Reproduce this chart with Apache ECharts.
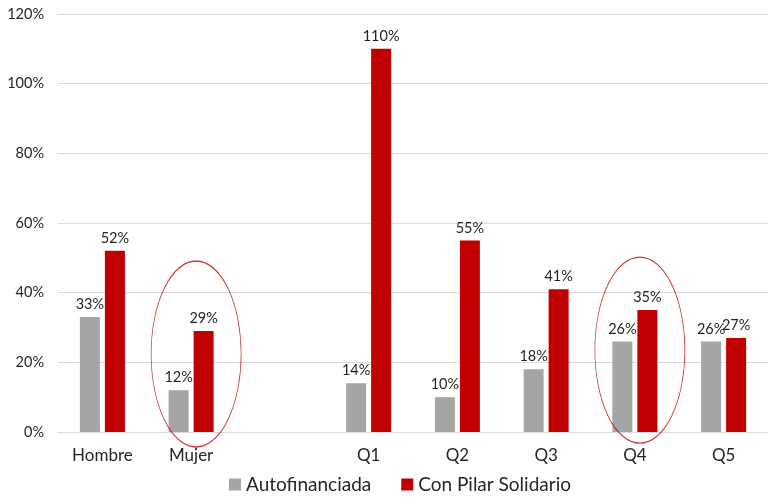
<!DOCTYPE html>
<html>
<head>
<meta charset="utf-8">
<script src="https://cdn.jsdelivr.net/npm/echarts@6/dist/echarts.min.js"></script>
<style>
html, body { margin: 0; padding: 0; background: #fff; }
#main { width: 768px; height: 499px; }
</style>
</head>
<body>
<div id="main"></div>
<script>
var categories = ['Hombre', 'Mujer', '', 'Q1', 'Q2', 'Q3', 'Q4', 'Q5'];
var autofinanciada = [33, 12, null, 14, 10, 18, 26, 26];
var pilarSolidario = [52, 29, null, 110, 55, 41, 35, 27];
var yTicks = [0, 20, 40, 60, 80, 100, 120];
// circled groups: [category, centre value]
var circled = [['Mujer', 22.4], ['Q4', 23.5]];

var font = 'Lato, "Open Sans", sans-serif';

var myChart = echarts.init(document.getElementById('main'));
myChart.setOption({
    animation: false,
    textStyle: { fontFamily: font },
    grid: { left: 58, right: 0, top: 14, bottom: 67 },
    legend: {
        data: ['Autofinanciada', 'Con Pilar Solidario'],
        bottom: 0,
        left: 224,
        itemWidth: 12,
        itemHeight: 12,
        itemGap: 30,
        icon: 'rect',
        textStyle: { fontSize: 19, color: '#262626', fontFamily: font }
    },
    xAxis: {
        type: 'category',
        data: categories,
        axisLine: { lineStyle: { color: '#d9d9d9' } },
        axisTick: { show: false },
        axisLabel: { fontSize: 17, color: '#262626', margin: 15 }
    },
    yAxis: {
        type: 'value',
        min: yTicks[0],
        max: yTicks[yTicks.length - 1],
        interval: 20,
        axisLine: { show: false },
        axisTick: { show: false },
        splitLine: { lineStyle: { color: '#d9d9d9' } },
        axisLabel: { fontSize: 14.5, color: '#262626', margin: 14, formatter: '{value}%' }
    },
    series: [
        {
            name: 'Autofinanciada',
            type: 'bar',
            data: autofinanciada,
            barWidth: 20,
            barGap: '25%',
            itemStyle: { color: '#a5a5a5' },
            label: { show: true, position: 'top', fontSize: 14.5, color: '#262626', formatter: '{c}%' }
        },
        {
            name: 'Con Pilar Solidario',
            type: 'bar',
            data: pilarSolidario,
            barWidth: 20,
            itemStyle: { color: '#c00000' },
            label: { show: true, position: 'top', fontSize: 14.5, color: '#262626', formatter: '{c}%' }
        },
        {
            type: 'scatter',
            data: circled,
            symbol: 'circle',
            symbolSize: [90, 186],
            symbolOffset: [5, 0],
            silent: true,
            z: 5,
            itemStyle: { color: 'transparent', borderColor: '#c00000', borderWidth: 1 }
        }
    ]
});
</script>
</body>
</html>
